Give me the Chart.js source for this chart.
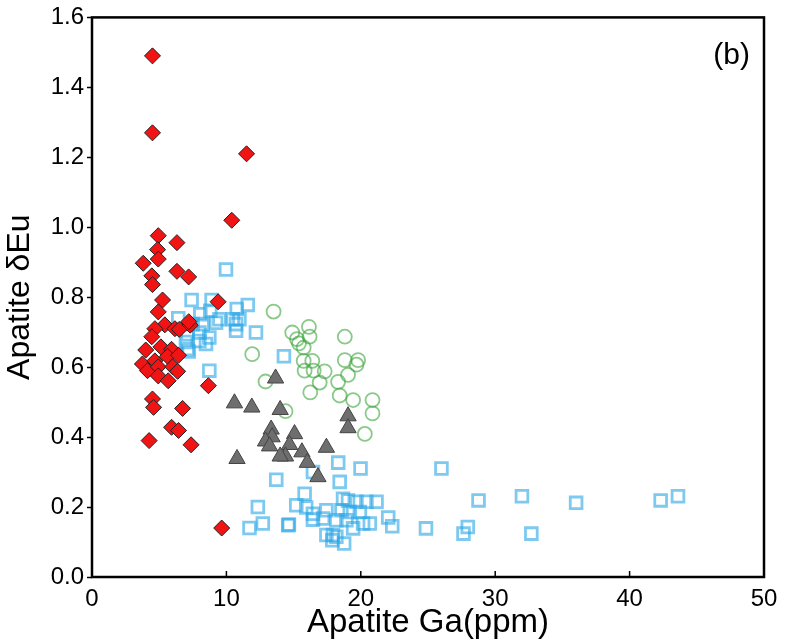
<!DOCTYPE html>
<html>
<head>
<meta charset="utf-8">
<script src="https://cdn.jsdelivr.net/npm/chart.js@4.4.1/dist/chart.umd.min.js"></script>
<style>
  html, body { margin: 0; padding: 0; background: #fff; }
  #wrap { width: 785px; height: 644px; }
</style>
</head>
<body>
<div id="wrap"><canvas id="chart"></canvas></div>
<script>
// Apatite Ga (ppm) vs Apatite dEu
const redGa = [4.5, 4.5, 11.5, 10.4, 4.93, 6.32, 4.88, 3.81, 4.93, 4.45, 4.5, 6.32, 7.19, 5.25, 9.38,
    4.93, 5.42, 4.68, 6.17, 6.49, 7.31, 7.2, 4.45, 4.0, 5.13, 5.92, 3.75, 4.68, 5.62, 6.44,
    4.13, 4.93, 4.93, 6.0, 6.37, 5.67, 8.66, 4.5, 4.58, 6.74, 5.92, 6.44, 4.25, 7.37, 9.65];
const redEu = [1.49, 1.27, 1.21, 1.02, 0.976, 0.956, 0.936, 0.897, 0.909, 0.861, 0.836, 0.874, 0.858, 0.792, 0.787,
    0.758, 0.721, 0.71, 0.71, 0.708, 0.72, 0.73, 0.687, 0.649, 0.658, 0.651, 0.609, 0.618, 0.631, 0.634,
    0.59, 0.601, 0.575, 0.601, 0.588, 0.561, 0.547, 0.509, 0.485, 0.482, 0.428, 0.419, 0.39, 0.378, 0.14];

const triGa = [13.66, 10.6, 11.89, 14.0, 19.05, 19.05, 13.33, 13.4, 12.91, 13.21, 15.07, 14.7, 15.62, 17.44,
    14.4, 14.0, 16.02, 16.81, 10.79];
const triEu = [0.568, 0.497, 0.485, 0.478, 0.46, 0.426, 0.422, 0.4, 0.388, 0.374, 0.409, 0.378, 0.357, 0.37,
    0.345, 0.345, 0.327, 0.286, 0.338];

const sqGa = [9.97, 7.41, 8.9, 11.59, 10.77, 6.42, 8.06, 8.8, 9.48, 10.47, 10.97, 7.49, 8.23, 9.23, 10.72,
    10.72, 12.2, 7.11, 7.99, 8.73, 6.99, 7.99, 8.48, 7.11, 7.2, 14.28, 8.73,
    18.32, 19.98, 26.0, 13.71, 16.44, 18.43, 15.82, 12.34, 15.2, 15.94, 16.44, 17.44, 18.68, 19.05,
    19.68, 20.42, 21.17, 18.56, 19.18, 19.93, 17.19, 18.18, 18.93, 22.04, 11.72, 12.71, 14.65, 14.6,
    16.44, 20.17, 20.67, 19.43, 22.34, 24.85, 17.44, 17.93, 18.18, 17.88, 18.76,
    28.76, 31.99, 36.02, 42.31, 43.6, 27.96, 27.64, 32.69];
const sqEu = [0.879, 0.792, 0.792, 0.778, 0.766, 0.74, 0.751, 0.761, 0.737, 0.737, 0.737, 0.723, 0.723, 0.727, 0.723,
    0.704, 0.699, 0.694, 0.699, 0.685, 0.672, 0.675, 0.666, 0.652, 0.645, 0.631, 0.59,
    0.327, 0.31, 0.31, 0.278, 0.3, 0.272, 0.238, 0.2, 0.205, 0.199, 0.181, 0.191, 0.224, 0.219,
    0.215, 0.215, 0.215, 0.191, 0.186, 0.186, 0.167, 0.162, 0.162, 0.17, 0.14, 0.153, 0.15, 0.148,
    0.164, 0.153, 0.153, 0.139, 0.145, 0.139, 0.12, 0.12, 0.115, 0.105, 0.096,
    0.219, 0.231, 0.212, 0.219, 0.231, 0.143, 0.124, 0.124];

const circGa = [13.51, 11.92, 12.91, 14.4, 14.9, 15.25, 16.14, 16.19, 15.75, 15.75, 16.39, 15.82, 16.49, 17.31,
    16.94, 16.24, 18.81, 18.81, 19.8, 19.68, 19.05, 18.31, 18.43, 19.43, 20.87, 20.87, 20.3, 15.4];
const circEu = [0.759, 0.637, 0.559, 0.474, 0.699, 0.68, 0.715, 0.687, 0.656, 0.618, 0.618, 0.59, 0.59, 0.588,
    0.556, 0.528, 0.687, 0.62, 0.62, 0.607, 0.578, 0.558, 0.519, 0.506, 0.506, 0.468, 0.409, 0.668];

const xTicks = [0, 10, 20, 30, 40, 50];
const panelLabel = '(b)';

const FONT = "'Liberation Sans', Arial, Helvetica, sans-serif";
Chart.defaults.font.family = FONT;
Chart.defaults.color = '#000';

function pts(xs, ys) {
    return xs.map((x, i) => ({ x: x, y: ys[i] }));
}

// frame, inward x ticks and the panel letter
const framePlugin = {
    id: 'frame',
    afterDraw(chart) {
        const { ctx, chartArea: a } = chart;
        const xs = chart.scales.x;
        ctx.save();
        ctx.strokeStyle = '#000';
        ctx.lineWidth = 1.5;
        xTicks.forEach(v => {
            const px = xs.getPixelForValue(v);
            ctx.beginPath();
            ctx.moveTo(px, a.bottom);
            ctx.lineTo(px, a.bottom - 6);
            ctx.stroke();
        });
        ctx.lineWidth = 2.5;
        ctx.strokeRect(a.left, a.top, a.right - a.left, a.bottom - a.top);
        ctx.fillStyle = '#000';
        ctx.font = '30px ' + FONT;
        ctx.textAlign = 'right';
        ctx.textBaseline = 'alphabetic';
        ctx.fillText(panelLabel, a.right - 14, a.top + 47);
        ctx.restore();
    }
};

new Chart(document.getElementById('chart'), {
    type: 'scatter',
    data: {
        datasets: [
            {
                label: 'diamond',
                data: pts(redGa, redEu),
                pointStyle: 'rectRot',
                pointRadius: 8,
                backgroundColor: '#f01414',
                borderColor: '#222',
                borderWidth: 1
            },
            {
                label: 'triangle',
                data: pts(triGa, triEu),
                pointStyle: 'triangle',
                pointRadius: 9.4,
                backgroundColor: '#6e6e6e',
                borderColor: '#444',
                borderWidth: 1
            },
            {
                label: 'square',
                data: pts(sqGa, sqEu),
                pointStyle: 'rect',
                pointRadius: 8.3,
                backgroundColor: 'rgba(0,0,0,0)',
                borderColor: 'rgba(45,168,230,0.62)',
                borderWidth: 2.8
            },
            {
                label: 'circle',
                data: pts(circGa, circEu),
                pointStyle: 'circle',
                pointRadius: 7,
                backgroundColor: 'rgba(0,0,0,0)',
                borderColor: 'rgba(60,165,60,0.6)',
                borderWidth: 1.8
            }
        ]
    },
    options: {
        responsive: true,
        maintainAspectRatio: false,
        animation: false,
        layout: { padding: { top: 16, right: 21, left: 0, bottom: 0 } },
        plugins: {
            legend: { display: false },
            tooltip: { enabled: false }
        },
        scales: {
            x: {
                type: 'linear',
                min: 0,
                max: 50,
                afterBuildTicks(scale) { scale.ticks = xTicks.map(v => ({ value: v })); },
                ticks: { font: { size: 24 }, color: '#000', padding: 0 },
                grid: { display: false },
                border: { display: false },
                title: {
                    display: true,
                    text: 'Apatite Ga(ppm)',
                    font: { size: 33 },
                    color: '#000',
                    padding: { top: 0, bottom: 1 }
                },
                afterFit(scale) { scale.height = 67; }
            },
            y: {
                type: 'linear',
                min: 0,
                max: 1.6,
                ticks: {
                    stepSize: 0.2,
                    font: { size: 24 },
                    color: '#000',
                    padding: 3,
                    callback: v => v.toFixed(1)
                },
                grid: {
                    drawOnChartArea: false,
                    drawTicks: true,
                    tickLength: 5,
                    tickWidth: 1.5,
                    tickColor: '#000'
                },
                border: { display: false },
                title: {
                    display: true,
                    text: 'Apatite δEu',
                    font: { size: 32 },
                    color: '#000',
                    padding: { top: 1, bottom: 0 }
                },
                afterFit(scale) { scale.width = 92; }
            }
        }
    },
    plugins: [framePlugin]
});
</script>
</body>
</html>
